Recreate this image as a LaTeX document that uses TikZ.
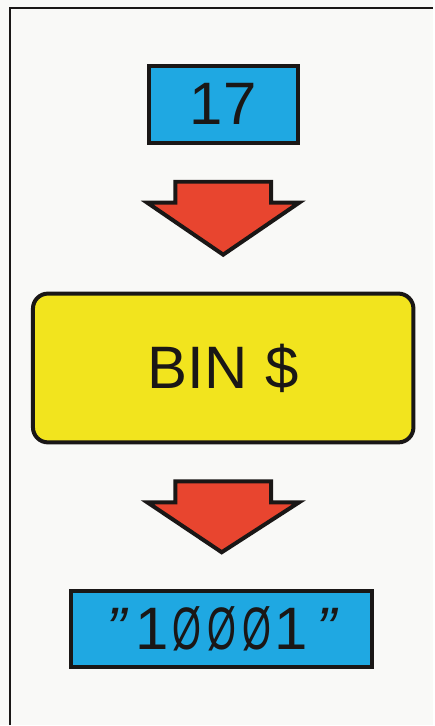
\documentclass[tikz,border=0pt]{standalone}
\usepackage{fontspec}
\setmainfont{Liberation Sans}
\newfontfamily\zerofont[FakeStretch=0.62]{Liberation Sans}
\usepackage{tikz}
\usetikzlibrary{calc,positioning}

\definecolor{paper}{HTML}{F9F9F7}
\definecolor{boxblue}{HTML}{1FA8E2}
\definecolor{boxyellow}{HTML}{F2E41E}
\definecolor{arrowred}{HTML}{E8452F}
\definecolor{ink}{HTML}{1A1716}

% one character in a fixed cell (wide-spaced result string)
\newcommand{\cell}[1]{\makebox[35pt]{#1}}

% fat arrow from one box down to the next
\newcommand{\fatarrow}[2]{%
    \draw[fat] ($(#1.south)+(-48,37)$) -- ($(#1.south)+(48,37)$)
        -- ($(#1.south)+(48,58)$) -- ($(#1.south)+(76,58)$)
        -- ($(#2.north)+(0,-37)$)
        -- ($(#1.south)+(-76,58)$) -- ($(#1.south)+(-48,58)$) -- cycle;
}

\begin{document}
\begin{tikzpicture}[
    x=1pt, y=-1pt,
    % --- STYLES ---
    valbox/.style={
        rectangle, draw=ink, fill=boxblue,
        line width=4pt, inner sep=0pt,
        font=\fontsize{60}{72}\selectfont, text=ink
    },
    func/.style={
        rectangle, rounded corners=15pt,
        draw=ink, fill=boxyellow,
        line width=4pt, inner sep=0pt,
        minimum width=381pt, minimum height=149pt,
        font=\fontsize{60}{72}\selectfont, text=ink
    },
    fat/.style={draw=ink, fill=arrowred, line width=4pt, line join=miter}
]

% ===== 1. BACKGROUND & FRAME =====
\fill[paper] (0,0) rectangle (434,726);
\draw[ink, line width=2pt] (10,726) -- (10,8) -- (434,8);

% ===== 2. NODES =====
\node[valbox, minimum width=149pt, minimum height=77pt] (num) at (223.5,104.5) {17};

\node[func, below=147pt of num] (bin) {BIN\hspace{0.3em}\$};

\node[valbox, minimum width=302pt, minimum height=76pt, below=145pt of bin, xshift=-1.5pt] (res)
    {\cell{\itshape"}\cell{1}\cell{\zerofont Ø}\cell{\zerofont Ø}\cell{\zerofont Ø}\cell{1}\cell{\itshape"}};

% ===== 3. ARROWS =====
\fatarrow{num}{bin}
\fatarrow{bin}{res}

\end{tikzpicture}
\end{document}
